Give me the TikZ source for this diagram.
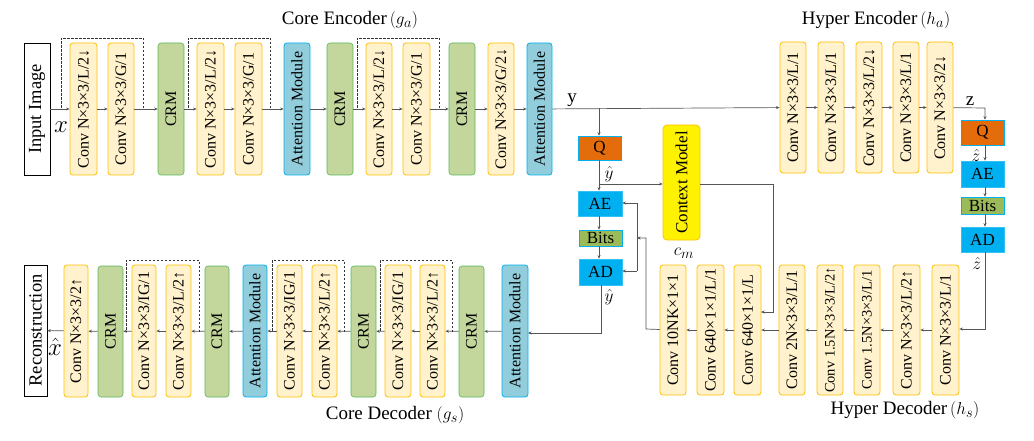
\documentclass[tikz,border=0pt]{standalone}
\usepackage{fontspec}
\setmainfont{Liberation Serif}
\usetikzlibrary{arrows.meta}
\definecolor{cfill}{HTML}{FFF2CC}\definecolor{cdraw}{HTML}{FFC000}
\definecolor{gfill}{HTML}{C3D69B}\definecolor{gdraw}{HTML}{5CB85C}
\definecolor{afill}{HTML}{92CDDC}\definecolor{adraw}{HTML}{00B0F0}
\definecolor{qfill}{HTML}{E46C0A}\definecolor{bfill}{HTML}{00B0F0}
\definecolor{bitfill}{HTML}{9BBB59}\definecolor{lc}{HTML}{555555}
\newcommand\bx[7]{\node[#2,rotate=90,minimum width={(#6-#5)*1pt},minimum height={(#4-#3)*1pt}] (#1) at ({(#3+#4)/2},{(#5+#6)/2}) {#7};}
\newcommand\hb[7]{\node[#2,minimum width={(#4-#3)*1pt},minimum height={(#6-#5)*1pt}] (#1) at ({(#3+#4)/2},{(#5+#6)/2}) {#7};}
\tikzset{
 base/.style={inner sep=0pt,font=\fontsize{16}{17}\selectfont},
 conv/.style={base,rounded corners=3pt,fill=cfill,draw=cdraw,line width=0.8pt},
 small/.style={font=\fontsize{14.5}{15}\selectfont},
 crm/.style={base,rounded corners=3pt,fill=gfill,draw=gdraw,line width=0.6pt},
 att/.style={base,rounded corners=3pt,fill=afill,draw=adraw,line width=0.8pt},
 io/.style={base,draw=black,fill=white,line width=0.6pt,font=\fontsize{18.5}{19}\selectfont},
 qb/.style={base,fill=qfill,draw=adraw,line width=0.6pt,font=\fontsize{17}{18}\selectfont},
 ab/.style={base,fill=bfill,draw=bfill!80,line width=0.6pt,font=\fontsize{17}{18}\selectfont},
 bits/.style={base,fill=bitfill,draw=adraw,line width=0.6pt,font=\fontsize{17}{18}\selectfont},
 ctx/.style={base,rounded corners=4pt,fill=yellow,draw=cdraw,line width=0.8pt},
 ln/.style={draw=lc,line width=0.7pt},
 ar/.style={ln,-{Stealth[length=3.5pt,width=3pt]}},
 sk/.style={draw=black!80,line width=0.7pt,dashed,dash pattern=on 2.5pt off 1.5pt},
 lab/.style={font=\fontsize{19}{20}\selectfont},
 ml/.style={font=\fontsize{17}{18}\selectfont},
}
\begin{document}
\begin{tikzpicture}[x=1pt,y=-1pt]
\useasboundingbox (0,0) rectangle (1034,441);
% top row
\bx{in}{io}{24}{50}{43}{175}{Input Image}
\bx{e1}{conv}{70}{97}{43}{175}{Conv N×3×3/L/2↓}
\bx{e2}{conv}{108}{134}{43}{175}{Conv N×3×3/G/1}
\bx{e3}{crm}{158}{184}{43}{175}{CRM}
\bx{e4}{conv}{197}{224}{43}{175}{Conv N×3×3/L/2↓}
\bx{e5}{conv}{235}{262}{43}{175}{Conv N×3×3/G/1}
\bx{e6}{att}{284}{310}{43}{175}{Attention Module}
\bx{e7}{crm}{327}{353}{43}{175}{CRM}
\bx{e8}{conv}{366}{392}{43}{175}{Conv N×3×3/L/2↓}
\bx{e9}{conv}{403}{430}{43}{175}{Conv N×3×3/G/1}
\bx{e10}{crm}{449}{475}{43}{175}{CRM}
\bx{e11}{conv}{488}{514}{43}{175}{Conv N×3×3/G/2↓}
\bx{e12}{att}{527}{552}{43}{175}{Attention Module}
\foreach \a/\b in {in/e1,e1/e2,e2/e3,e3/e4,e4/e5,e5/e6,e6/e7,e7/e8,e8/e9,e9/e10,e10/e11,e11/e12}{\draw[ar] (\a) -- (\b);}
\draw[sk] (61,108)--(61,38)--(143,38)--(143,108);
\draw[sk] (188,108)--(188,38)--(270,38)--(270,108);
\draw[sk] (357,108)--(357,38)--(439,38)--(439,108);
\node[lab] (tce) at (350,20) {Core Encoder$\,(g_a)$};
\node[font=\fontsize{24}{24}\selectfont] (xl) at (61,127) {$x$};
% hyper encoder
\bx{h1}{conv}{780}{806}{42}{173}{Conv N×3×3/L/1}
\bx{h2}{conv}{818}{844}{42}{173}{Conv N×3×3/L/1}
\bx{h3}{conv}{856}{882}{42}{173}{Conv N×3×3/L/2↓}
\bx{h4}{conv}{893}{919}{42}{173}{Conv N×3×3/L/1}
\bx{h5}{conv}{927}{953}{42}{173}{Conv N×3×3/2↓}
\node[lab] (the) at (876,20) {Hyper Encoder$\,(h_a)$};
\draw[ar] (e12) -- (h1);
\foreach \a/\b in {h1/h2,h2/h3,h3/h4,h4/h5}{\draw[ar] (\a) -- (\b);}
\node[lab] (yl) at (572,100) {y};
\node[lab] (zl) at (970,101) {z};
% entropy coding main
\hb{q}{qb}{578}{621}{136}{160}{Q}
\hb{ae}{ab}{578}{622}{191}{216}{AE}
\hb{bt}{bits}{579}{622}{230}{246}{Bits}
\hb{ad}{ab}{579}{622}{259}{285}{AD}
\coordinate (yb) at (599,108);
\draw[ar] (yb) -- (q.north -| yb);
\draw[ar] (q.south -| yb) -- (ae.north -| yb);
\draw[ar] (ae.south -| yb) -- (bt.north -| yb);
\draw[ar] (bt.south -| yb) -- (ad.north -| yb);
\node[ml] (yh1) at (609,174) {$\hat y$};
\node[ml] (yh2) at (609,297) {$\hat y$};
\hb{cm}{ctx}{663}{700}{125}{240}{}
\node[rotate=90,font=\fontsize{17}{18}\selectfont] (cmt) at (cm) {Context Model};
\node[lab] (cml) at (684,253) {$c_m$};
\coordinate (cb) at (599,184);
\draw[ar] (cb) -- (cb -| cm.west);
% hyper entropy
\hb{q2}{qb}{961}{1004}{120}{145}{Q}
\hb{ae2}{ab}{961}{1004}{161}{187}{AE}
\hb{bt2}{bits}{961}{1004}{197}{214}{Bits}
\hb{ad2}{ab}{961}{1004}{227}{252}{AD}
\coordinate (zb) at (985,108);
\draw[ar] (h5) -- (zb) -- (q2.north -| zb);
\draw[ar] (q2.south -| zb) -- (ae2.north -| zb);
\draw[ar] (ae2.south -| zb) -- (bt2.north -| zb);
\draw[ar] (bt2.south -| zb) -- (ad2.north -| zb);
\node[ml] (zh1) at (976,156) {$\hat z$};
\node[ml] (zh2) at (977,263) {$\hat z$};
% hyper decoder
\bx{d1}{conv}{660}{686}{265}{395}{Conv 10NK×1×1}
\bx{d2}{conv}{697}{724}{265}{395}{Conv 640×1×1/L/1}
\bx{d3}{conv}{734}{761}{265}{395}{Conv 640×1×1/L}
\bx{d4}{conv}{779}{805}{265}{395}{Conv 2N×3×3/L/1}
\bx{d5}{conv,small}{817}{843}{265}{395}{Conv 1.5N×3×3/L/2↑}
\bx{d6}{conv,small}{854}{880}{265}{395}{Conv 1.5N×3×3/L/1}
\bx{d7}{conv}{893}{920}{265}{395}{Conv N×3×3/L/2↑}
\bx{d8}{conv}{932}{959}{265}{395}{Conv N×3×3/L/1}
\node[lab] (thd) at (905,410) {Hyper Decoder$\,(h_s)$};
\coordinate (zc) at (985,329);
\draw[ar] (ad2.south -| zb) -- (zc) -- (zc -| d8.south);
\foreach \a/\b in {d8/d7,d7/d6,d6/d5,d5/d4,d4/d3,d3/d2,d2/d1}{\draw[ar] (\a) -- (\b);}
\coordinate (c1) at (773,184);
\draw[ar] (cm.east |- c1) -- (c1) -- (773,312) -- (761,312);
\coordinate (bus) at (637,238);
\draw[ar] (d1) -- (646,329) -- (646,238) -- (bus);
\draw[ln] (637,203) -- (637,271);
\draw[ar] (637,203) -- (ae.east |- 0,203);
\draw[ar] (637,271) -- (ad.east |- 0,271);
% bottom row
\bx{rc}{io}{24}{47}{265}{396}{Reconstruction}
\bx{b1}{conv}{64}{88}{265}{397}{Conv N×3×3/2↑}
\bx{b2}{crm}{98}{123}{266}{397}{CRM}
\bx{b3}{conv}{132}{156}{265}{397}{Conv N×3×3/IG/1}
\bx{b4}{conv}{166}{191}{265}{397}{Conv N×3×3/L/2↑}
\bx{b5}{crm}{205}{229}{266}{397}{CRM}
\bx{b6}{att}{243}{267}{265}{397}{Attention Module}
\bx{b7}{conv}{277}{302}{265}{397}{Conv N×3×3/IG/1}
\bx{b8}{conv}{312}{337}{265}{397}{Conv N×3×3/L/2↑}
\bx{b9}{crm}{351}{376}{266}{397}{CRM}
\bx{b10}{conv}{385}{411}{265}{397}{Conv N×3×3/IG/1}
\bx{b11}{conv}{420}{445}{265}{397}{Conv N×3×3/L/2↑}
\bx{b12}{crm}{459}{484}{266}{397}{CRM}
\bx{b13}{att}{502}{528}{265}{397}{Attention Module}
\draw[ar] (ad.south -| 601,0) -- (601,333) -- (528,333);
\foreach \a/\b in {b13/b12,b12/b11,b11/b10,b10/b9,b9/b8,b8/b7,b7/b6,b6/b5,b5/b4,b4/b3,b3/b2,b2/b1,b1/rc}{\draw[ar] (\a) -- (\b);}
\draw[sk] (199,332)--(199,260)--(126,260)--(126,332);
\draw[sk] (344,332)--(344,260)--(272,260)--(272,332);
\draw[sk] (452,332)--(452,260)--(380,260)--(380,332);
\node[font=\fontsize{24}{24}\selectfont] (xh) at (55,347) {$\hat x$};
\node[lab] (tcd) at (395,415) {Core Decoder $(g_s)$};
\end{tikzpicture}
\end{document}
